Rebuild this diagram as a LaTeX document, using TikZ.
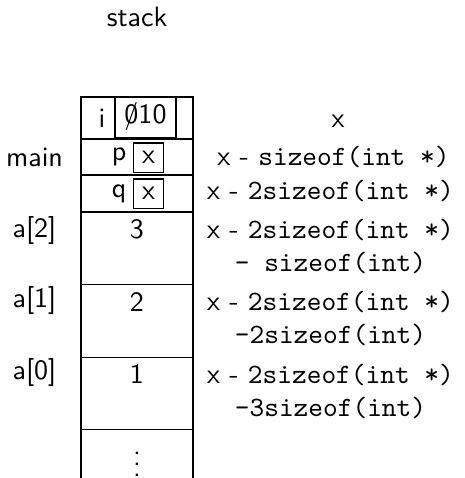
\documentclass[tikz,border=0pt]{standalone}
\usepackage{tikz}
\usetikzlibrary{positioning}

\begin{document}
\begin{tikzpicture}[
  x=0.357pt, y=-0.357pt,
  font=\sffamily,
  cell/.style={draw, minimum width=40pt, inner sep=0pt, outer sep=0pt},
  valbox/.style={draw, inner sep=0pt, outer sep=0pt},
  addr/.style={align=center, anchor=north, inner sep=0pt},
  frame/.style={inner sep=0pt}
]
  \useasboundingbox (0,0) rectangle (465,478);
  \coordinate (bot) at (0,478);

  \node[frame] (title) at (137,17) {stack};

  % the frames on the stack
  \node[cell, anchor=north, minimum height=15pt] (ci) at (137,97) {};
  \node[cell, below=0pt of ci, minimum height=12.85pt] (cp) {};
  \node[cell, below=0pt of cp, minimum height=13.2pt] (cq) {};
  \node[cell, below=0pt of cq, minimum height=25.9pt] (ca2) {};
  \node[cell, below=0pt of ca2, minimum height=25.9pt] (ca1) {};
  \node[cell, below=0pt of ca1, minimum height=25.9pt] (ca0) {};
  \draw (ca0.south west) -- (ca0.south west |- bot);
  \draw (ca0.south east) -- (ca0.south east |- bot);

  % contents
  \node[frame] (ni) at (102,118) {i};
  \node[valbox, anchor=north, minimum width=21.8pt, minimum height=14.3pt] (vi) at (145.5,97)
    {\ooalign{0\cr\hidewidth/\hidewidth}10};
  \node[frame] (np) at (119,157) {p};
  \node[valbox, minimum width=11pt, minimum height=10.4pt] (vp) at (148.5,157.5) {x};
  \node[frame] (nq) at (119,193.5) {q};
  \node[valbox, minimum width=11pt, minimum height=10.4pt] (vq) at (148.5,193.5) {x};
  \node[frame, below=2.5pt of ca2.north] (v2) {3};
  \node[frame, below=2.5pt of ca1.north] (v1) {2};
  \node[frame, below=2.5pt of ca0.north] (v0) {1};
  \node[frame] (dots) at (137,456) {$\vdots$};

  % names on the left
  \node[frame] (lmain) at (34.5,157) {main};
  \node[frame] (la2) at (34.5,230) {a[2]};
  \node[frame] (la1) at (34.5,300) {a[1]};
  \node[frame] (la0) at (34.5,372) {a[0]};

  % addresses on the right
  \node[frame] (ai) at (338,121) {x};
  \node[frame] (ap) at (333.5,157) {x - \texttt{sizeof(int *)}};
  \node[frame] (aq) at (330.5,191) {x - \texttt{2sizeof(int *)}};
  \node[addr] (a2) at (330.5,218) {x - \texttt{2sizeof(int *)}\\\texttt{- sizeof(int)}};
  \node[addr] (a1) at (330.5,290) {x - \texttt{2sizeof(int *)}\\\texttt{-2sizeof(int)}};
  \node[addr] (a0) at (330.5,363) {x - \texttt{2sizeof(int *)}\\\texttt{-3sizeof(int)}};
\end{tikzpicture}
\end{document}
